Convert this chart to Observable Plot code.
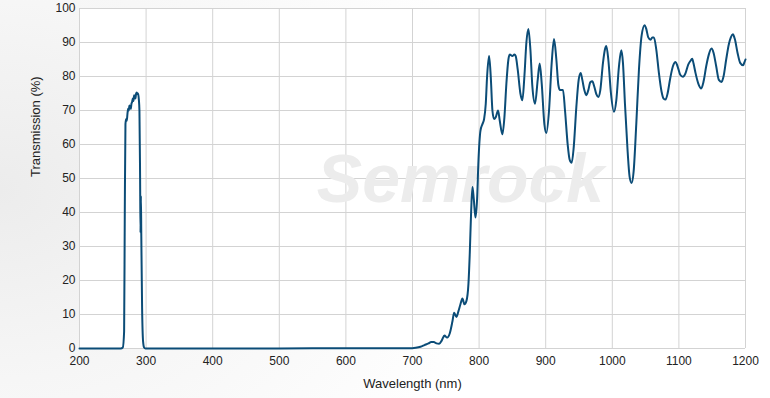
<!DOCTYPE html>
<html>
<head>
<meta charset="utf-8">
<script src="https://cdn.jsdelivr.net/npm/d3@7"></script>
<script src="https://cdn.jsdelivr.net/npm/@observablehq/plot@0.6"></script>
<style>
  html, body { margin: 0; padding: 0; }
  body {
    width: 770px; height: 398px; overflow: hidden;
    background: radial-gradient(ellipse 520px 420px at 0px 190px, #ececec 0%, #f6f6f6 45%, #ffffff 100%);
    font-family: "Liberation Sans", Arial, sans-serif;
  }
  #chart svg { display: block; background: transparent !important; }
</style>
</head>
<body>
<div id="chart"></div>
<script>
const wavelength = [
  200, 262, 265, 267, 268, 269, 270, 271, 272, 273, 274, 275, 276, 277, 278, 279, 280, 281, 282, 283, 284, 285, 286, 287, 288, 289, 290, 291, 291.6, 292.2, 292.8, 294, 295.5, 297, 299,
  400, 500, 600, 700, 705, 712, 718, 724, 728, 732, 736, 740, 744, 748, 752, 756, 760, 762.5, 766, 769, 772, 775, 778, 781, 784, 786, 788, 790, 792, 794.5, 797, 799,
  802, 805, 807.5, 810, 812, 815, 817.5, 820, 822.5, 825, 828.5, 831, 835, 838, 841, 844, 846, 850, 853, 855, 858, 862, 865, 868, 871, 874, 877, 880, 884, 888, 891, 894, 898,
  901, 905, 909, 912.5, 916, 919, 921.5, 926, 929, 933, 936, 939, 942, 946, 949.5, 952.5, 955, 958, 961, 964, 967, 970, 973, 976, 979, 982, 986, 989, 991, 994, 998,
  1002.5, 1006, 1010, 1013.5, 1016, 1019, 1023, 1026, 1029, 1032, 1036, 1040, 1044, 1048.5, 1051, 1054, 1057.5, 1060, 1062.5, 1066, 1070, 1074, 1077, 1080, 1083, 1087, 1091, 1095, 1098,
  1102, 1106, 1110, 1114, 1117, 1120, 1122, 1125, 1129, 1133.5, 1137, 1141, 1145, 1149, 1152, 1156, 1160, 1164, 1167, 1171, 1175, 1178, 1181, 1184, 1188, 1192, 1196.5, 1198, 1200
];
const transmission = [
  0, 0, 0.3, 5, 40, 66, 67.5, 67, 69, 70.5, 70, 71.5, 71, 70.5, 72, 72.5, 73.5, 72.8, 74.5, 74, 73.5, 75, 75.3, 74.8, 75, 73.5, 70, 50, 34, 45, 33, 12, 2, 0.3, 0,
  0, 0, 0.1, 0.1, 0.2, 0.5, 1.0, 1.5, 1.9, 1.9, 1.5, 1.4, 2.4, 3.8, 3.2, 4.5, 8, 10.5, 9.3, 11, 13, 14.7, 13, 14, 19, 28, 40, 47.5, 44, 38.5, 44, 55,
  64, 66, 67.5, 72, 80, 86, 80, 70, 67.5, 68, 70, 67, 63, 68, 78, 85, 86.5, 86, 86.5, 86, 82, 75, 73, 80, 90, 94, 88, 77, 72, 79, 83.8, 78, 66,
  63.4, 70, 84, 91, 85, 77.5, 76, 76, 70, 60, 55.5, 54.6, 59, 71, 79, 81, 79, 76, 74.5, 76, 78.3, 78.6, 77, 74.8, 74, 76, 84, 88, 89, 85, 75,
  69.6, 73, 83, 87.7, 84, 72, 58, 50.5, 48.7, 52, 66, 82, 92, 95.1, 94, 91.5, 90.8, 91.5, 91.5, 88, 81, 75.5, 73.5, 73.2, 75, 79.5, 83, 84.3, 83,
  80.5, 79.9, 81, 83.5, 84.5, 85.2, 83.8, 81, 78, 76.5, 78.5, 83, 86.5, 88.2, 87, 83, 79, 78.4, 80, 85, 89.5, 91.5, 92.4, 91, 87, 84, 83.3, 84, 85
];
const xTicks = [200, 300, 400, 500, 600, 700, 800, 900, 1000, 1100, 1200];
const yTicks = [0, 10, 20, 30, 40, 50, 60, 70, 80, 90, 100];
const xLabel = "Wavelength (nm)";
const yLabel = "Transmission (%)";
const watermark = "Semrock";

const data = wavelength.map((w, i) => ({w, t: transmission[i]}));

const chart = Plot.plot({
  width: 770,
  height: 398,
  marginLeft: 79,
  marginRight: 25,
  marginTop: 8,
  marginBottom: 50,
  style: {fontFamily: "'Liberation Sans', Arial, sans-serif", fontSize: "12px", color: "#333", background: "transparent"},
  x: {domain: [200, 1200]},
  y: {domain: [0, 100]},
  marks: [
    Plot.frame({fill: "white", stroke: "none"}),
    Plot.gridX(xTicks, {stroke: "#d3d3d3", strokeOpacity: 1}),
    Plot.gridY(yTicks, {stroke: "#d3d3d3", strokeOpacity: 1}),
    Plot.text([watermark], {frameAnchor: "middle", dx: 48, dy: 2, fontSize: 68, fontWeight: "bold", fontStyle: "italic", fill: "#ececec", fontFamily: "'Liberation Sans', Arial, sans-serif"}),
    Plot.axisX(xTicks, {tickSize: 0, tickPadding: 8, fill: "#222", tickFormat: d => String(d), label: null}),
    Plot.axisY(yTicks, {tickSize: 0, tickPadding: 4, fill: "#222", tickFormat: d => String(d), label: null}),
    Plot.text([xLabel], {frameAnchor: "bottom", dy: 35, lineAnchor: "middle", fontSize: 13, fill: "#222"}),
    Plot.text([yLabel], {frameAnchor: "left", dx: -43.5, dy: -1.5, rotate: -90, lineAnchor: "middle", fontSize: 13, fill: "#222"}),
    Plot.line(data, {x: "w", y: "t", stroke: "#0b4c77", strokeWidth: 2, curve: "monotone-x"})
  ]
});
document.getElementById("chart").appendChild(chart);
</script>
</body>
</html>
